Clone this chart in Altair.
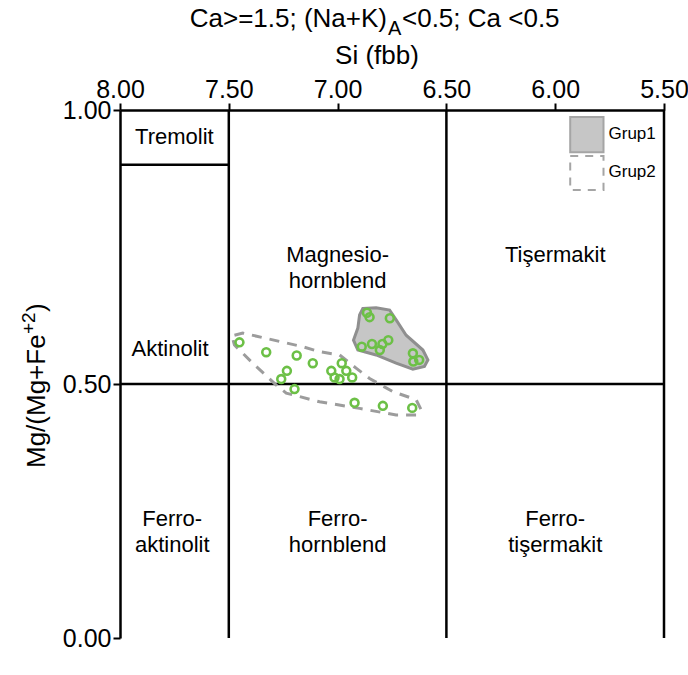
import altair as alt
import pandas as pd

F = "Liberation Sans"

# ---- data ----
x_ticks = [8.0, 7.5, 7.0, 6.5, 6.0, 5.5]
y_ticks = [0.0, 0.5, 1.0]

g1_x = [6.865, 6.853, 6.760, 6.889, 6.842, 6.794, 6.806, 6.767, 6.654, 6.625, 6.652]
g1_y = [0.630, 0.622, 0.620, 0.568, 0.573, 0.573, 0.562, 0.580, 0.556, 0.544, 0.541]

g2_x = [7.451, 7.328, 7.188, 7.114, 7.233, 7.259, 7.198, 6.981, 7.029, 6.960,
        7.014, 6.991, 6.933, 6.922, 6.792, 6.657]
g2_y = [0.576, 0.558, 0.552, 0.538, 0.524, 0.509, 0.490, 0.538, 0.524, 0.524,
        0.512, 0.509, 0.512, 0.463, 0.457, 0.453]

hull1_x = [6.884, 6.823, 6.761, 6.731, 6.685, 6.608, 6.585, 6.601, 6.654, 6.731,
           6.823, 6.907, 6.927, 6.907, 6.899]
hull1_y = [0.638, 0.639, 0.635, 0.617, 0.589, 0.562, 0.544, 0.532, 0.527, 0.538,
           0.553, 0.562, 0.580, 0.602, 0.626]

hull2_x = [7.474, 7.436, 7.160, 7.083, 6.991, 6.915, 6.853, 6.746, 6.639, 6.616,
           6.639, 6.731, 6.899, 7.083, 7.236, 7.282, 7.390, 7.474, 7.482]
hull2_y = [0.589, 0.593, 0.568, 0.559, 0.553, 0.529, 0.510, 0.485, 0.469, 0.449,
           0.439, 0.439, 0.452, 0.465, 0.482, 0.498, 0.538, 0.571, 0.583]

# field boundaries
seg_x = [7.5, 6.5, 5.5, 8.0, 8.0]
seg_x2 = [7.5, 6.5, 5.5, 5.5, 7.5]
seg_y = [0.0, 0.0, 0.0, 0.5, 0.9]
seg_y2 = [1.0, 1.0, 1.0, 0.5, 0.9]

field_names = ["Tremolit", "Aktinolit", "Ferro-\naktinolit", "Magnesio-\nhornblend",
               "Tişermakit", "Ferro-\nhornblend", "Ferro-\ntişermakit"]
field_x = [7.75, 7.77, 7.76, 7.0, 6.0, 7.0, 6.0]
field_y = [0.951, 0.564, 0.234, 0.735, 0.735, 0.234, 0.234]

legend_names = ["Grup1", "Grup2"]
legend_x = [5.931, 5.931]
legend_x2 = [5.778, 5.778]
legend_y = [0.987, 0.916]
legend_y2 = [0.923, 0.854]
legend_tx = [5.755, 5.755]
legend_ty = [0.956, 0.887]

# ---- scales / axes ----
xs = alt.Scale(domain=[8.0, 5.5], nice=False, zero=False)
ys = alt.Scale(domain=[0.0, 0.5, 1.0], range=[528, 274, 0], nice=False, zero=False)

xaxis = alt.Axis(orient="top", values=x_ticks, format=".2f", title=None, grid=False,
                 labelFontSize=25, labelFont=F, labelColor="black", tickColor="black",
                 tickSize=7, tickWidth=2, domainColor="black", domainWidth=2.5,
                 labelPadding=1, labelFlush=False, labelOverlap=False)
yaxis = alt.Axis(orient="left", values=y_ticks, format=".2f", title=None, grid=False,
                 labelFontSize=25, labelFont=F, labelColor="black", tickColor="black",
                 tickSize=7, tickWidth=2, domainColor="black", domainWidth=2.5,
                 labelPadding=2, labelFlush=False, labelOverlap=False)


def X(field):
    return alt.X(field, type="quantitative", scale=xs, axis=xaxis)


def Y(field):
    return alt.Y(field, type="quantitative", scale=ys, axis=yaxis)


seg_df = pd.DataFrame({"x": seg_x, "x2": seg_x2, "y": seg_y, "y2": seg_y2})
rules = alt.Chart(seg_df).mark_rule(color="black", strokeWidth=2.5).encode(
    x=X("x"), x2="x2:Q", y=Y("y"), y2="y2:Q",
)

h1 = pd.DataFrame({"x": hull1_x, "y": hull1_y, "i": range(len(hull1_x))})
hull1 = alt.Chart(h1).mark_line(fill="#c6c6c6", stroke="#8f8f8f", strokeWidth=3,
                                interpolate="linear-closed").encode(
    x=X("x"), y=Y("y"), order="i:Q",
)

h2 = pd.DataFrame({"x": hull2_x, "y": hull2_y, "i": range(len(hull2_x))})
hull2 = alt.Chart(h2).mark_line(stroke="#9c9c9c", strokeWidth=3, strokeDash=[10, 8],
                                interpolate="linear-closed").encode(
    x=X("x"), y=Y("y"), order="i:Q",
)

pts_df = pd.DataFrame({"x": g1_x + g2_x, "y": g1_y + g2_y})
points = alt.Chart(pts_df).mark_point(shape="circle", filled=False, color="#6cc046",
                                       strokeWidth=2.6, size=62, opacity=1).encode(
    x=X("x"), y=Y("y"),
)

fl_df = pd.DataFrame({"name": field_names, "x": field_x, "y": field_y})
fields = alt.Chart(fl_df).mark_text(font=F, fontSize=22, color="black", lineBreak="\n",
                                     lineHeight=26, align="center", baseline="middle").encode(
    x=X("x"), y=Y("y"), text="name:N",
)

lg_df = pd.DataFrame({"name": legend_names, "x": legend_x, "x2": legend_x2,
                      "y": legend_y, "y2": legend_y2, "tx": legend_tx, "ty": legend_ty})
leg1 = alt.Chart(lg_df.iloc[[0]]).mark_rect(fill="#c6c6c6", stroke="#a5a5a5", strokeWidth=2).encode(
    x=X("x"), x2="x2:Q", y=Y("y"), y2="y2:Q",
)
leg2 = alt.Chart(lg_df.iloc[[1]]).mark_rect(fill="white", fillOpacity=0, stroke="#a5a5a5",
                                            strokeWidth=2, strokeDash=[8, 7]).encode(
    x=X("x"), x2="x2:Q", y=Y("y"), y2="y2:Q",
)
legtxt = alt.Chart(lg_df).mark_text(font=F, fontSize=17, color="black", align="left",
                                    baseline="middle").encode(
    x=X("tx"), y=Y("ty"), text="name:N",
)


# ---- titles (text pieces) ----
def label(text, x, y, size, align="left", angle=0):
    return alt.Chart(pd.DataFrame({"t": [text]})).mark_text(
        font=F, fontSize=size, color="black", align=align, baseline="alphabetic", angle=angle
    ).encode(x=alt.value(x), y=alt.value(y), text="t:N")


t1 = label("Ca>=1.5; (Na+K)", 267, -83, 26, align="right")
t2 = label("A", 268, -75, 20)
t3 = label("<0.5; Ca <0.5", 282, -83, 26)
t4 = label("Si (fbb)", 257, -46, 26, align="center")

yt1 = label("Mg/(Mg+Fe", -75, 358, 26, angle=270)
yt2 = label("+2", -85, 224, 19, angle=270)
yt3 = label(")", -75, 202, 26, angle=270)

chart = alt.layer(
    rules, hull1, hull2, points, fields, leg1, leg2, legtxt,
    t1, t2, t3, t4, yt1, yt2, yt3,
).properties(
    width=544, height=528,
    padding={"left": 120, "top": 110, "right": 24, "bottom": 37},
    autosize=alt.AutoSizeParams(type="none"),
    background="white",
).configure_view(stroke=None)

chart.save("out.html", embed_options={"renderer": "svg", "actions": False})
